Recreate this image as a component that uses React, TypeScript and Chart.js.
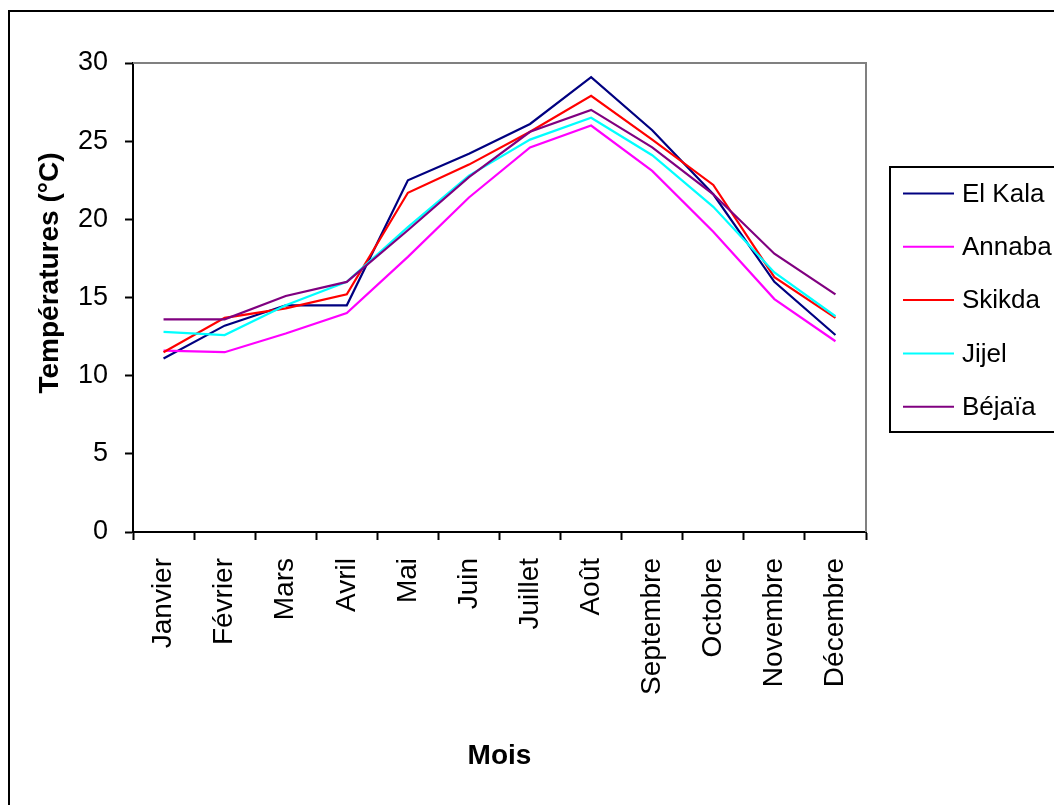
import React, { useEffect, useRef } from 'react';
import { Chart, registerables } from 'chart.js';

Chart.register(...registerables);

const months = ['Janvier', 'Février', 'Mars', 'Avril', 'Mai', 'Juin', 'Juillet', 'Août', 'Septembre', 'Octobre', 'Novembre', 'Décembre'];
const seriesNames = ['El Kala', 'Annaba', 'Skikda', 'Jijel', 'Béjaïa'];
const elKala = [11.1, 13.2, 14.5, 14.5, 22.5, 24.2, 26.1, 29.1, 25.7, 21.6, 16.0, 12.6];
const annaba = [11.6, 11.5, 12.7, 14.0, 17.6, 21.4, 24.6, 26.0, 23.1, 19.2, 14.9, 12.2];
const skikda = [11.5, 13.7, 14.3, 15.2, 21.7, 23.5, 25.6, 27.9, 25.1, 22.2, 16.3, 13.7];
const jijel = [12.8, 12.6, 14.5, 16.0, 19.5, 22.8, 25.1, 26.5, 24.1, 20.8, 16.6, 13.8];
const bejaia = [13.6, 13.6, 15.1, 16.0, 19.3, 22.7, 25.6, 27.0, 24.6, 21.6, 17.8, 15.2];
const seriesColors = ['#000080', '#FF00FF', '#FF0000', '#00FFFF', '#800080'];
const yMin = 0;
const yMax = 30;
const yStep = 5;
const xTitle = 'Mois';
const yTitle = 'Températures (°C)';

const FONT = 'Arial, "Liberation Sans", sans-serif';

const decorPlugin = {
  id: 'decor',
  beforeDatasetsDraw(chart: any) {
    const ctx = chart.ctx;
    const a = chart.chartArea;
    ctx.save();
    ctx.strokeStyle = '#808080';
    ctx.lineWidth = 2;
    ctx.beginPath();
    ctx.moveTo(a.left, a.top);
    ctx.lineTo(a.right, a.top);
    ctx.lineTo(a.right, a.bottom);
    ctx.stroke();
    ctx.restore();
  },
  afterDraw(chart: any) {
    const ctx = chart.ctx;
    const a = chart.chartArea;
    const W = chart.width;
    const H = chart.height;
    ctx.save();
    // outer frame
    ctx.strokeStyle = '#000';
    ctx.lineWidth = 2;
    ctx.beginPath();
    ctx.moveTo(9, H + 5);
    ctx.lineTo(9, 11);
    ctx.lineTo(W + 5, 11);
    ctx.stroke();

    // axis titles
    ctx.fillStyle = '#000';
    ctx.font = 'bold 28px ' + FONT;
    ctx.textAlign = 'center';
    ctx.textBaseline = 'alphabetic';
    ctx.fillText(xTitle, (a.left + a.right) / 2, 764);
    ctx.save();
    ctx.translate(50, 273);
    ctx.rotate(-Math.PI / 2);
    ctx.textBaseline = 'middle';
    ctx.fillText(yTitle, 0, 0);
    ctx.restore();

    // legend
    const lx = 890, ly = 167, lb = 432;
    ctx.strokeStyle = '#000';
    ctx.lineWidth = 2;
    ctx.beginPath();
    ctx.moveTo(W + 5, ly);
    ctx.lineTo(lx, ly);
    ctx.lineTo(lx, lb);
    ctx.lineTo(W + 5, lb);
    ctx.stroke();
    ctx.font = '26px ' + FONT;
    ctx.textAlign = 'left';
    ctx.textBaseline = 'middle';
    chart.data.datasets.forEach((ds: any, i: number) => {
      const y = 193.5 + i * 53.3;
      ctx.strokeStyle = ds.borderColor;
      ctx.lineWidth = 2;
      ctx.beginPath();
      ctx.moveTo(903, y);
      ctx.lineTo(954, y);
      ctx.stroke();
      ctx.fillStyle = '#000';
      ctx.fillText(ds.label, 962, y + 1);
    });
    ctx.restore();
  },
};

export default function App() {
  const ref = useRef<HTMLCanvasElement>(null);
  useEffect(() => {
    document.body.style.margin = '0';
    document.body.style.overflow = 'hidden';
    const values = [elKala, annaba, skikda, jijel, bejaia];
    const chart = new Chart(ref.current as HTMLCanvasElement, {
      type: 'line',
      data: {
        labels: months,
        datasets: seriesNames.map((name, i) => ({
          label: name,
          data: values[i],
          borderColor: seriesColors[i],
          backgroundColor: seriesColors[i],
          borderWidth: 2.2,
          pointRadius: 0,
          tension: 0,
          fill: false,
          order: seriesNames.length - i,
        })),
      },
      options: {
        animation: false,
        responsive: false,
        devicePixelRatio: 1,
        layout: { padding: { left: 0, top: 63, right: 188, bottom: 0 } },
        plugins: { legend: { display: false }, tooltip: { enabled: false } },
        scales: {
          x: {
            offset: true,
            grid: { offset: true, drawOnChartArea: false, drawTicks: true, tickLength: 8, tickColor: '#000', tickWidth: 2 },
            border: { display: true, color: '#000', width: 2 },
            ticks: { autoSkip: false, maxRotation: 90, minRotation: 90, padding: 18, color: '#000', font: { size: 28, family: FONT } },
            afterFit: (s: any) => { s.height = 805 - 532; },
          },
          y: {
            min: yMin,
            max: yMax,
            grid: { drawOnChartArea: false, drawTicks: true, tickLength: 8, tickColor: '#000', tickWidth: 2 },
            border: { display: true, color: '#000', width: 2 },
            ticks: { stepSize: yStep, padding: 17, color: '#000', font: { size: 27, family: FONT } },
            afterFit: (s: any) => { s.width = 133; },
          },
        },
      },
      plugins: [decorPlugin],
    } as any);
    return () => chart.destroy();
  }, []);
  return <canvas ref={ref} width={1054} height={805} style={{ display: 'block', width: 1054, height: 805 }} />;
}
